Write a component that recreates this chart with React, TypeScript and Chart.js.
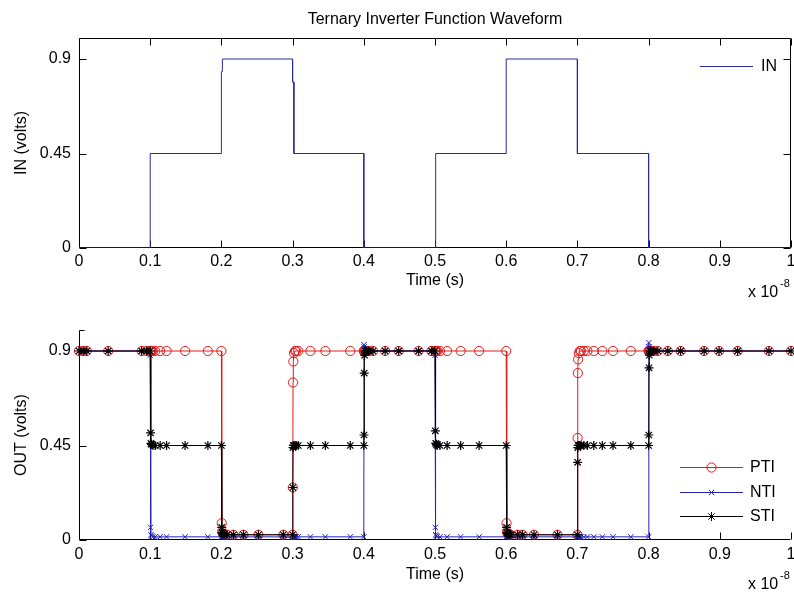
import React, { useEffect, useRef } from 'react';
import { Chart, registerables } from 'chart.js';

Chart.register(...registerables);

// ---------------- data ----------------
const xTickValues = [0, 0.1, 0.2, 0.3, 0.4, 0.5, 0.6, 0.7, 0.8, 0.9, 1];
const xTickLabels = ['0', '0.1', '0.2', '0.3', '0.4', '0.5', '0.6', '0.7', '0.8', '0.9', '1'];
const yTickValues = [0, 0.45, 0.9];
const yTickLabels = ['0', '0.45', '0.9'];

// Input waveform (time in units of 1e-8 s, volts)
const inTime = [0, 0.1, 0.1, 0.2, 0.2, 0.2014, 0.2014, 0.3, 0.3, 0.3018, 0.3018, 0.4, 0.4, 0.5, 0.5, 0.5014, 0.5014, 0.6, 0.6, 0.7, 0.7, 0.8, 0.8, 1.0];
const inVolts = [0, 0, 0.45, 0.45, 0.84, 0.84, 0.9, 0.9, 0.79, 0.79, 0.45, 0.45, 0, 0, 0.07, 0.07, 0.45, 0.45, 0.9, 0.9, 0.45, 0.45, 0, 0];

// Output simulation time steps (shared by PTI, NTI, STI)
const outTime = [
  0, 0.006, 0.011, 0.041, 0.088, 0.095,
  0.1, 0.1005, 0.101, 0.102, 0.104, 0.107,
  0.114, 0.123, 0.149, 0.181,
  0.2, 0.2005, 0.201, 0.202, 0.204, 0.208,
  0.217, 0.231, 0.252, 0.287,
  0.3, 0.3003, 0.3006, 0.301, 0.302, 0.3035, 0.305, 0.308,
  0.325, 0.346, 0.381,
  0.4, 0.4003, 0.4006, 0.401, 0.402, 0.404, 0.407,
  0.413, 0.43, 0.449, 0.477, 0.495,
  0.5, 0.5005, 0.501, 0.502, 0.503, 0.507,
  0.517, 0.536, 0.562,
  0.6, 0.6005, 0.601, 0.602, 0.604, 0.606,
  0.616, 0.623, 0.639, 0.672,
  0.7, 0.7003, 0.7006, 0.701, 0.702, 0.7035, 0.705, 0.709,
  0.714, 0.723, 0.735, 0.75, 0.775,
  0.8, 0.8003, 0.8006, 0.801, 0.802, 0.804, 0.807,
  0.813, 0.827, 0.845, 0.878, 0.899, 0.925, 0.969, 1.0,
];

const ptiVolts = [
  0.9, 0.9, 0.9, 0.9, 0.9, 0.9,
  0.9, 0.9, 0.9, 0.9, 0.9, 0.9,
  0.9, 0.9, 0.9, 0.9,
  0.9, 0.08, 0.04, 0.03, 0.027, 0.025,
  0.025, 0.025, 0.025, 0.025,
  0.025, 0.25, 0.75, 0.85, 0.89, 0.9, 0.9, 0.9,
  0.9, 0.9, 0.9,
  0.9, 0.9, 0.9, 0.9, 0.9, 0.9, 0.9,
  0.9, 0.9, 0.9, 0.9, 0.9,
  0.9, 0.9, 0.9, 0.9, 0.9, 0.9,
  0.9, 0.9, 0.9,
  0.9, 0.08, 0.04, 0.03, 0.027, 0.025,
  0.025, 0.025, 0.025, 0.025,
  0.025, 0.486, 0.795, 0.86, 0.89, 0.9, 0.9, 0.9,
  0.9, 0.9, 0.9, 0.9, 0.9,
  0.9, 0.9, 0.9, 0.9, 0.9, 0.9, 0.9,
  0.9, 0.9, 0.9, 0.9, 0.9, 0.9, 0.9, 0.9,
];

const ntiVolts = [
  0.9, 0.9, 0.9, 0.9, 0.9, 0.9,
  0.88, 0.06, 0.025, 0.02, 0.016, 0.015,
  0.015, 0.015, 0.015, 0.015,
  0.015, 0.015, 0.015, 0.015, 0.015, 0.015,
  0.015, 0.015, 0.015, 0.015,
  0.015, 0.015, 0.015, 0.015, 0.015, 0.015, 0.015, 0.015,
  0.015, 0.015, 0.015,
  0.015, 0.93, 0.92, 0.91, 0.9, 0.9, 0.9,
  0.9, 0.9, 0.9, 0.9, 0.9,
  0.88, 0.06, 0.025, 0.02, 0.016, 0.015,
  0.015, 0.015, 0.015,
  0.015, 0.015, 0.015, 0.015, 0.015, 0.015,
  0.015, 0.015, 0.015, 0.015,
  0.015, 0.015, 0.015, 0.015, 0.015, 0.015, 0.015, 0.015,
  0.015, 0.015, 0.015, 0.015, 0.015,
  0.015, 0.94, 0.92, 0.91, 0.9, 0.9, 0.9,
  0.9, 0.9, 0.9, 0.9, 0.9, 0.9, 0.9, 0.9,
];

const stiVolts = [
  0.9, 0.9, 0.9, 0.9, 0.9, 0.9,
  0.9, 0.51, 0.46, 0.455, 0.45, 0.45,
  0.45, 0.45, 0.45, 0.45,
  0.45, 0.06, 0.035, 0.03, 0.027, 0.025,
  0.025, 0.025, 0.025, 0.025,
  0.025, 0.25, 0.44, 0.45, 0.45, 0.45, 0.45, 0.45,
  0.45, 0.45, 0.45,
  0.45, 0.5, 0.795, 0.88, 0.9, 0.9, 0.9,
  0.9, 0.9, 0.9, 0.9, 0.9,
  0.9, 0.52, 0.46, 0.455, 0.45, 0.45,
  0.45, 0.45, 0.45,
  0.45, 0.06, 0.035, 0.03, 0.027, 0.025,
  0.025, 0.025, 0.025, 0.025,
  0.025, 0.37, 0.44, 0.45, 0.45, 0.45, 0.45, 0.45,
  0.45, 0.45, 0.45, 0.45, 0.45,
  0.45, 0.5, 0.82, 0.88, 0.9, 0.9, 0.9,
  0.9, 0.9, 0.9, 0.9, 0.9, 0.9, 0.9, 0.9,
];

// ---------------- styles ----------------
const FONT_FAMILY = "'Liberation Sans', Arial, Helvetica, sans-serif";
const TEXT = '#000000';
const IN_COLOR = '#2b2b9c';
const PTI_COLOR = '#e31a1a';
const NTI_COLOR = '#2323b8';
const STI_COLOR = '#000000';
const PTI_R = 4.6;
const NTI_R = 3.8;
const STI_R = 4.5;

function labelFor(values: number[], labels: string[], v: number): string {
  for (let i = 0; i < values.length; i++) {
    if (Math.abs(values[i] - v) < 1e-9) return labels[i];
  }
  return '';
}

function strokeMarker(ctx: CanvasRenderingContext2D, style: string, x: number, y: number, r: number) {
  ctx.beginPath();
  if (style === 'circle') {
    ctx.arc(x, y, r, 0, Math.PI * 2);
  } else {
    const d = r * Math.SQRT1_2;
    if (style === 'star') {
      ctx.moveTo(x - r, y); ctx.lineTo(x + r, y);
      ctx.moveTo(x, y - r); ctx.lineTo(x, y + r);
    }
    ctx.moveTo(x - d, y - d); ctx.lineTo(x + d, y + d);
    ctx.moveTo(x - d, y + d); ctx.lineTo(x + d, y - d);
  }
  ctx.stroke();
}

type LegendItem = { label: string; color: string; marker: string | null; radius: number; y: number };
type AxesCfg = {
  box: boolean;
  topStub: boolean;
  legend: LegendItem[];
  lineX0: number;
  lineX1: number;
  textX: number;
};

function makeAxesPlugin(cfg: AxesCfg) {
  return {
    id: 'matlabAxes',
    beforeDatasetsDraw(chart: any) {
      const { ctx, chartArea: a, scales } = chart;
      const x = scales.x, y = scales.y;
      const L = Math.round(a.left) + 0.5;
      const R = Math.round(a.right) - 0.5;
      const T = Math.round(a.top) + 0.5;
      const B = Math.round(a.bottom) - 0.5;
      const tl = 7;
      ctx.save();
      ctx.strokeStyle = '#000';
      ctx.lineWidth = 1;
      ctx.beginPath();
      ctx.moveTo(L, T);
      ctx.lineTo(L, B);
      ctx.lineTo(R, B);
      if (cfg.box) {
        ctx.lineTo(R, T);
        ctx.lineTo(L, T);
      }
      if (cfg.topStub) {
        ctx.moveTo(L, T);
        ctx.lineTo(L + 5, T);
      }
      for (const v of xTickValues) {
        const px = Math.round(x.getPixelForValue(v)) + 0.5;
        ctx.moveTo(px, B); ctx.lineTo(px, B - tl);
        if (cfg.box) { ctx.moveTo(px, T); ctx.lineTo(px, T + tl); }
      }
      for (const v of yTickValues) {
        const py = Math.round(y.getPixelForValue(v)) + 0.5;
        ctx.moveTo(L, py); ctx.lineTo(L + tl, py);
        if (cfg.box) { ctx.moveTo(R, py); ctx.lineTo(R - tl, py); }
      }
      ctx.stroke();
      ctx.restore();
    },
    afterDraw(chart: any) {
      const { ctx, chartArea: a } = chart;
      ctx.save();
      // exponent label
      ctx.fillStyle = TEXT;
      ctx.textBaseline = 'middle';
      ctx.textAlign = 'left';
      ctx.font = `16px ${FONT_FAMILY}`;
      ctx.fillText('x 10', a.right - 43, a.bottom + 45);
      ctx.font = `11px ${FONT_FAMILY}`;
      ctx.fillText('-8', a.right - 11, a.bottom + 36);
      // legend
      for (const it of cfg.legend) {
        ctx.strokeStyle = it.color;
        ctx.lineWidth = 1;
        ctx.beginPath();
        ctx.moveTo(cfg.lineX0, it.y + 0.5);
        ctx.lineTo(cfg.lineX1, it.y + 0.5);
        ctx.stroke();
        if (it.marker) {
          strokeMarker(ctx, it.marker, (cfg.lineX0 + cfg.lineX1) / 2, it.y + 0.5, it.radius);
        }
        ctx.fillStyle = TEXT;
        ctx.font = `16px ${FONT_FAMILY}`;
        ctx.textAlign = 'left';
        ctx.textBaseline = 'middle';
        ctx.fillText(it.label, cfg.textX, it.y + 1);
      }
      ctx.restore();
    },
  };
}

function xScale(height: number, tickPad: number, titlePadBottom: number) {
  return {
    type: 'linear',
    min: 0,
    max: 1,
    afterBuildTicks: (s: any) => { s.ticks = xTickValues.map((v) => ({ value: v })); },
    afterFit: (s: any) => { s.height = height; s.paddingLeft = 0; s.paddingRight = 0; },
    grid: { display: false, drawTicks: false },
    border: { display: false },
    ticks: {
      autoSkip: false,
      maxRotation: 0,
      padding: tickPad,
      color: TEXT,
      font: { family: FONT_FAMILY, size: 16 },
      callback: (v: number) => labelFor(xTickValues, xTickLabels, v),
    },
    title: {
      display: true,
      text: 'Time (s)',
      color: TEXT,
      font: { family: FONT_FAMILY, size: 16 },
      padding: { top: 0, bottom: titlePadBottom },
    },
  };
}

function yScale(title: string) {
  return {
    type: 'linear',
    min: 0,
    max: 1,
    afterBuildTicks: (s: any) => { s.ticks = yTickValues.map((v) => ({ value: v })); },
    afterFit: (s: any) => { s.width = 79; s.paddingTop = 0; s.paddingBottom = 0; },
    grid: { display: false, drawTicks: false },
    border: { display: false },
    ticks: {
      padding: 8,
      color: TEXT,
      font: { family: FONT_FAMILY, size: 16 },
      callback: (v: number) => labelFor(yTickValues, yTickLabels, v),
    },
    title: {
      display: true,
      text: title,
      color: TEXT,
      font: { family: FONT_FAMILY, size: 16 },
      padding: { top: 12.4, bottom: 0 },
    },
  };
}

function topConfig(): any {
  return {
    type: 'line',
    data: {
      datasets: [
        {
          label: 'IN',
          data: inTime.map((t, i) => ({ x: t, y: inVolts[i] })),
          borderColor: IN_COLOR,
          borderWidth: 1,
          pointRadius: 0,
          tension: 0,
          fill: false,
        },
      ],
    },
    options: {
      responsive: false,
      animation: false,
      events: [],
      layout: { padding: { left: 0, right: 3, top: 0, bottom: 0 }, autoPadding: false },
      plugins: {
        legend: { display: false },
        tooltip: { enabled: false },
        title: {
          display: true,
          fullSize: false,
          text: 'Ternary Inverter Function Waveform',
          color: TEXT,
          font: { family: FONT_FAMILY, size: 16, weight: 'normal' },
          padding: { top: 10, bottom: 8.8 },
        },
      },
      scales: {
        x: xScale(52, 4, 9.4),
        y: yScale('IN (volts)'),
      },
    },
    plugins: [
      makeAxesPlugin({
        box: true,
        topStub: false,
        legend: [{ label: 'IN', color: IN_COLOR, marker: null, radius: 0, y: 66 }],
        lineX0: 700,
        lineX1: 753,
        textX: 761,
      }),
    ],
  };
}

function bottomConfig(): any {
  return {
    type: 'line',
    data: {
      datasets: [
        {
          label: 'PTI',
          data: outTime.map((t, i) => ({ x: t, y: ptiVolts[i] })),
          borderColor: PTI_COLOR,
          borderWidth: 1,
          pointStyle: 'circle',
          pointRadius: PTI_R,
          pointBorderWidth: 1,
          pointBorderColor: PTI_COLOR,
          pointBackgroundColor: 'rgba(0,0,0,0)',
          tension: 0,
          fill: false,
          clip: false,
          order: 2,
        },
        {
          label: 'NTI',
          data: outTime.map((t, i) => ({ x: t, y: ntiVolts[i] })),
          borderColor: NTI_COLOR,
          borderWidth: 1,
          pointStyle: 'crossRot',
          pointRadius: NTI_R,
          pointBorderWidth: 1,
          pointBorderColor: NTI_COLOR,
          pointBackgroundColor: NTI_COLOR,
          tension: 0,
          fill: false,
          clip: false,
          order: 1,
        },
        {
          label: 'STI',
          data: outTime.map((t, i) => ({ x: t, y: stiVolts[i] })),
          borderColor: STI_COLOR,
          borderWidth: 1,
          pointStyle: 'star',
          pointRadius: STI_R,
          pointBorderWidth: 1.2,
          pointBorderColor: STI_COLOR,
          pointBackgroundColor: STI_COLOR,
          tension: 0,
          fill: false,
          clip: false,
          order: 0,
        },
      ],
    },
    options: {
      responsive: false,
      animation: false,
      events: [],
      layout: { padding: { left: 0, right: 3, top: 30, bottom: 0 }, autoPadding: false },
      plugins: {
        legend: { display: false },
        tooltip: { enabled: false },
        title: { display: false },
      },
      scales: {
        x: xScale(56, 5, 11.4),
        y: yScale('OUT (volts)'),
      },
    },
    plugins: [
      makeAxesPlugin({
        box: false,
        topStub: true,
        legend: [
          { label: 'PTI', color: PTI_COLOR, marker: 'circle', radius: PTI_R, y: 467 - 300 },
          { label: 'NTI', color: NTI_COLOR, marker: 'crossRot', radius: NTI_R, y: 492 - 300 },
          { label: 'STI', color: STI_COLOR, marker: 'star', radius: STI_R, y: 516 - 300 },
        ],
        lineX0: 680,
        lineX1: 743,
        textX: 750,
      }),
    ],
  };
}

export default function App() {
  const topRef = useRef<HTMLCanvasElement>(null);
  const botRef = useRef<HTMLCanvasElement>(null);

  useEffect(() => {
    const c1 = new Chart(topRef.current as HTMLCanvasElement, topConfig());
    const c2 = new Chart(botRef.current as HTMLCanvasElement, bottomConfig());
    return () => {
      c1.destroy();
      c2.destroy();
    };
  }, []);

  return (
    <div style={{ position: 'absolute', left: 0, top: 0, width: 794, height: 596, background: '#ffffff' }}>
      <canvas ref={topRef} width={794} height={300} style={{ display: 'block' }} />
      <canvas ref={botRef} width={794} height={296} style={{ display: 'block' }} />
    </div>
  );
}
